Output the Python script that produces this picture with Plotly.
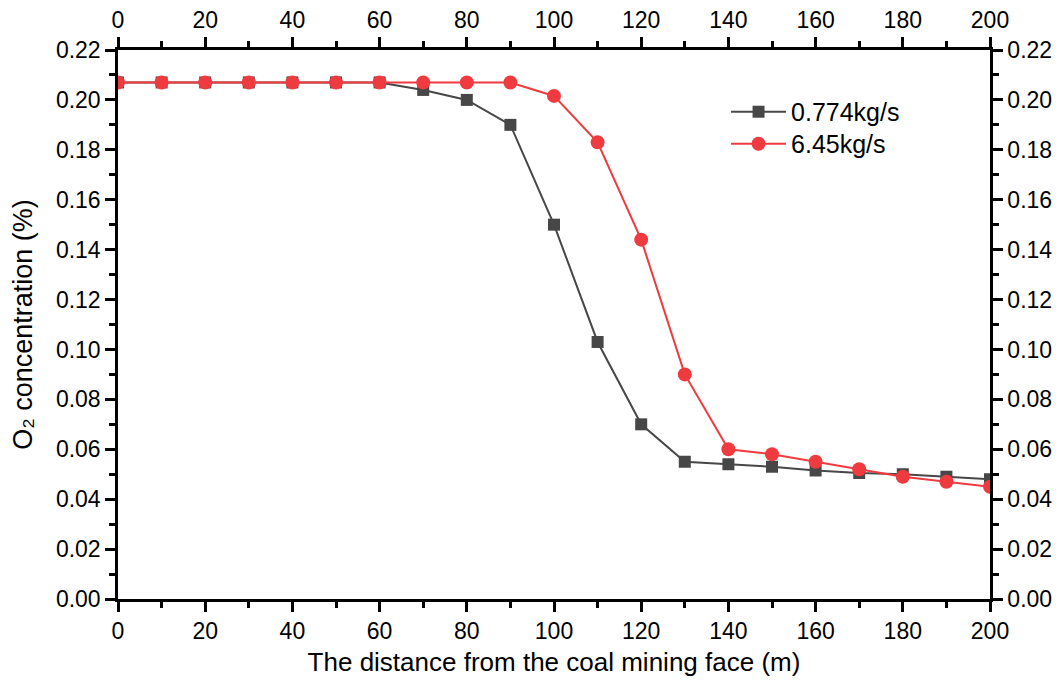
import plotly.graph_objects as go

distance = [0, 10, 20, 30, 40, 50, 60, 70, 80, 90, 100, 110, 120, 130, 140, 150, 160, 170, 180, 190, 200]
o2_0774 = [0.207, 0.207, 0.207, 0.207, 0.207, 0.207, 0.207, 0.204, 0.200, 0.190, 0.150, 0.103, 0.070,
           0.055, 0.054, 0.053, 0.0515, 0.0505, 0.050, 0.049, 0.048]
o2_645 = [0.207, 0.207, 0.207, 0.207, 0.207, 0.207, 0.207, 0.207, 0.207, 0.207, 0.2016, 0.183, 0.144,
          0.090, 0.060, 0.058, 0.055, 0.052, 0.049, 0.047, 0.045]
series_names = ["0.774kg/s", "6.45kg/s"]

FONT = "Liberation Sans, Arial, sans-serif"
GRAY = "#474747"
RED = "#EF3B3F"

fig = go.Figure()
fig.add_trace(go.Scatter(x=distance, y=o2_0774, name=series_names[0], mode="lines+markers",
                         line=dict(color=GRAY, width=2),
                         marker=dict(symbol="square", size=12, color=GRAY),
                         legend="legend"))
fig.add_trace(go.Scatter(x=distance, y=o2_645, name=series_names[1], mode="lines+markers",
                         line=dict(color=RED, width=2),
                         marker=dict(symbol="circle", size=14, color=RED),
                         legend="legend2"))

axis_common = dict(showline=True, linecolor="black", linewidth=2.5, mirror=False,
                   ticks="outside", ticklen=10, tickwidth=2.5, tickcolor="black",
                   showgrid=False, zeroline=False,
                   tickfont=dict(family=FONT, size=23, color="black"))

xminor = dict(ticks="outside", ticklen=6, tickwidth=2.5, tickcolor="black", dtick=10, showgrid=False)
yminor = dict(ticks="outside", ticklen=6, tickwidth=2.5, tickcolor="black", dtick=0.01, showgrid=False)

legend_common = dict(xanchor="left", yanchor="top", bgcolor="rgba(0,0,0,0)",
                     font=dict(family=FONT, size=25, color="black"), itemwidth=55)

fig.update_layout(
    width=1055, height=676,
    margin=dict(l=110, r=73, t=42, b=85, autoexpand=False),
    paper_bgcolor="white", plot_bgcolor="white",
    font=dict(family=FONT, color="black"),
    showlegend=True,
    legend=dict(x=0.6973, y=0.929, **legend_common),
    legend2=dict(x=0.6973, y=0.8707, **legend_common),
    xaxis=dict(range=[0, 200], dtick=20, tick0=0, minor=xminor,
               title=dict(text="The distance from the coal mining face (m)",
                          font=dict(family=FONT, size=26, color="black"), standoff=10),
               **axis_common),
    yaxis=dict(range=[0, 0.22], dtick=0.02, tick0=0, tickformat=".2f", minor=yminor,
               title=dict(text="O₂ concentration (%)",
                          font=dict(family=FONT, size=27, color="black"), standoff=16),
               **axis_common),
    xaxis2=dict(range=[0, 200], dtick=20, tick0=0, overlaying="x", side="top", anchor="y",
                minor=xminor, **axis_common),
    yaxis2=dict(range=[0, 0.22], dtick=0.02, tick0=0, tickformat=".2f", overlaying="y",
                side="right", anchor="x", minor=yminor, **axis_common),
)

# invisible trace to activate the secondary axes
fig.add_trace(go.Scatter(x=[distance[0]], y=[o2_645[0]], xaxis="x2", yaxis="y2",
                         mode="markers", marker=dict(opacity=0), showlegend=False,
                         hoverinfo="skip"))

fig.write_html("out.html")
